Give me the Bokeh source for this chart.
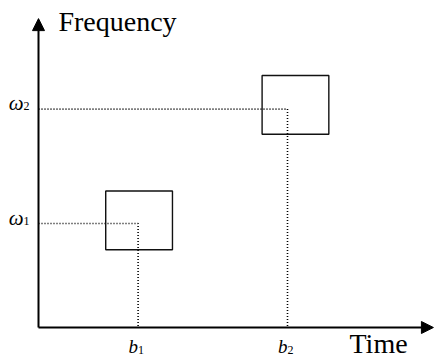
from bokeh.plotting import figure
from bokeh.models import Range1d, Arrow, NormalHead, ColumnDataSource
from bokeh.core.properties import value
from bokeh.embed import file_html
from bokeh.resources import INLINE

# ---- data (time / frequency units) ----
b_vals = [2.0, 5.0]            # time centres b1, b2
w_vals = [2.0, 4.2]            # frequency centres omega1, omega2
b_names = ["b", "b"]
w_names = ["\u03c9", "\u03c9"]
subs = ["1", "2"]
box_x = [2.02, 5.16]           # tile centres
box_y = [2.06, 4.28]
box_w = 1.34                   # tile width (time resolution)
box_h = 1.13                   # tile height (frequency resolution)
x_tip = 7.93
y_tip = 5.94

W, H = 435, 360
XS, YS = 49.8, 52.0            # px per unit
x0_px, y0_px = 38, 33          # origin position inside the canvas

p = figure(width=W, height=H, output_backend="svg", toolbar_location=None,
           x_range=Range1d(-x0_px / XS, (W - x0_px) / XS),
           y_range=Range1d(-y0_px / YS, (H - y0_px) / YS),
           x_axis_location=None, y_axis_location=None, min_border=0)
p.grid.visible = False
p.outline_line_color = None
p.background_fill_color = "white"
p.border_fill_color = "white"

# axes with arrow heads
for (xs, ys, xe, ye) in [(0, 0, x_tip, 0), (0, 0, 0, y_tip)]:
    p.add_layout(Arrow(end=NormalHead(size=12, fill_color="black", line_color="black", line_width=1),
                       x_start=xs, y_start=ys, x_end=xe, y_end=ye,
                       line_width=2, line_color="black"))

# dotted guide lines
for b, w in zip(b_vals, w_vals):
    p.line([0, b, b], [w, w, 0], line_color="black", line_width=1.6, line_dash="1 2")

# tiles
p.rect(x=box_x, y=box_y, width=box_w, height=box_h, fill_alpha=0,
       line_color="#111111", line_width=1.4)

serif = value("Liberation Serif")

# axis titles
p.text(x=[0.40], y=[5.71], text=["Frequency"], text_font=serif,
       text_font_size="28px", text_baseline="alphabetic", text_align="left", text_color="black",
       y_offset=-9)
p.text(x=[6.245], y=[-0.59], text=["Time"], text_font=serif,
       text_font_size="28px", text_baseline="alphabetic", text_align="left", text_color="black",
       y_offset=-15)

# omega labels
src_w = ColumnDataSource(dict(x=[0, 0], y=w_vals, t=w_names, s=subs))
p.text(x="x", y="y", text="t", source=src_w, text_font=serif, text_font_style="italic",
       text_font_size="21px", text_align="right", text_baseline="alphabetic",
       x_offset=-15, y_offset=-6, text_color="black")
p.text(x="x", y="y", text="s", source=src_w, text_font=serif,
       text_font_size="12px", text_align="left", text_baseline="alphabetic",
       x_offset=-15, y_offset=-3, text_color="black")

# b labels
src_b = ColumnDataSource(dict(x=b_vals, y=[0, 0], t=b_names, s=subs))
p.text(x="x", y="y", text="t", source=src_b, text_font=serif, text_font_style="italic",
       text_font_size="19px", text_align="right", text_baseline="alphabetic",
       y_offset=19, text_color="black")
p.text(x="x", y="y", text="s", source=src_b, text_font=serif,
       text_font_size="12px", text_align="left", text_baseline="alphabetic",
       y_offset=22, text_color="black")

open("out.html", "w").write(file_html(p, INLINE))
